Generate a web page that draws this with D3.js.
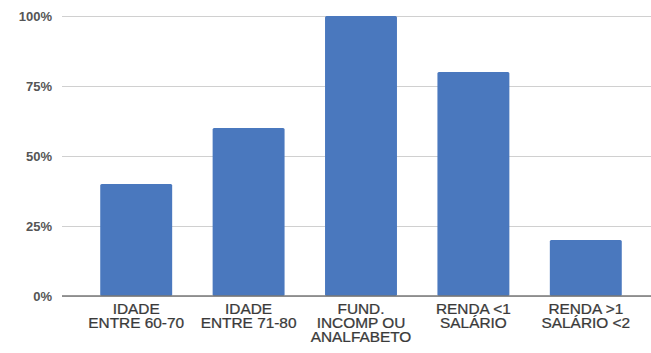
<!DOCTYPE html>
<html>
<head>
<meta charset="utf-8">
<script src="https://cdn.jsdelivr.net/npm/d3@7"></script>
<style>
  html, body { margin: 0; padding: 0; background: #fff; }
  svg { display: block; }
</style>
</head>
<body>
<div id="chart"></div>
<script>
// categorias (linhas separadas por |)
const categories = [
  "IDADE|ENTRE 60-70",
  "IDADE|ENTRE 71-80",
  "FUND.|INCOMP OU|ANALFABETO",
  "RENDA <1|SALÁRIO",
  "RENDA >1|SALÁRIO <2"
];
const values = [0.40, 0.60, 1.00, 0.80, 0.20];
const yTicks = [0, 0.25, 0.5, 0.75, 1];

const width = 651, height = 353;
const marginLeft = 62, plotTop = 16, plotBottom = 296;

const svg = d3.select("#chart").append("svg")
  .attr("width", width)
  .attr("height", height);

const x = d3.scaleBand()
  .domain(categories)
  .range([80, 642])
  .paddingInner(0.36)
  .paddingOuter(0.18);

const y = d3.scaleLinear()
  .domain([0, 1])
  .range([plotBottom, plotTop]);

// grade
const yAxis = d3.axisLeft(y)
  .tickValues(yTicks)
  .tickFormat(d3.format(".0%"))
  .tickSize(-(width - marginLeft))
  .tickPadding(10);

const gy = svg.append("g")
  .attr("transform", "translate(" + marginLeft + ",0)")
  .call(yAxis);
gy.select(".domain").remove();
gy.selectAll(".tick line")
  .attr("stroke", "#d0d0d0")
  .attr("stroke-width", 1.2);
gy.selectAll(".tick text")
  .attr("fill", "#555")
  .attr("font-family", "Liberation Sans, Arial, sans-serif")
  .attr("font-size", 13)
  .attr("font-weight", "bold");

// barras
svg.selectAll("rect.bar")
  .data(values)
  .enter()
  .append("rect")
  .attr("class", "bar")
  .attr("x", (d, i) => x(categories[i]))
  .attr("y", d => y(d))
  .attr("width", x.bandwidth())
  .attr("height", d => plotBottom - y(d))
  .attr("rx", 1.5)
  .attr("fill", "#4a78be");

// linha de base
svg.append("line")
  .attr("x1", marginLeft).attr("x2", width)
  .attr("y1", plotBottom).attr("y2", plotBottom)
  .attr("stroke", "#777")
  .attr("stroke-width", 1.5);

// rótulos do eixo x (um pouco esticados na horizontal, como no original)
const labels = svg.selectAll("text.cat")
  .data(categories)
  .enter()
  .append("text")
  .attr("class", "cat")
  .attr("text-anchor", "middle")
  .attr("font-family", "Liberation Sans, Arial, sans-serif")
  .attr("font-size", 14)
  .attr("fill", "#3a3a3a")
  .attr("stroke", "#3a3a3a")
  .attr("stroke-width", 0.25)
  .attr("transform", d => "translate(" + (x(d) + x.bandwidth() / 2) + ",314) scale(1.1,1)");

labels.each(function(d) {
  const t = d3.select(this);
  d.split("|").forEach((line, i) => {
    t.append("tspan")
      .attr("x", 0)
      .attr("y", i * 14)
      .text(line);
  });
});
</script>
</body>
</html>
